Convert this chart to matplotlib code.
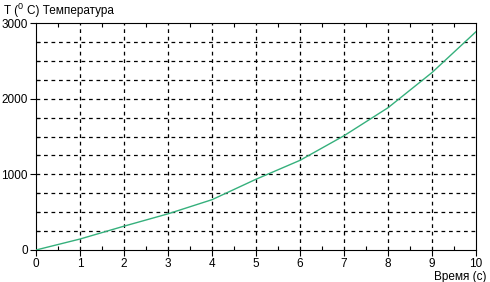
import matplotlib
matplotlib.use('Agg')
import matplotlib.pyplot as plt
from matplotlib.ticker import MultipleLocator

# time (s) and temperature (deg C)
time_s = [0, 1, 2, 3, 4, 5, 6, 7, 8, 9, 10]
temp_c = [0, 145, 315, 478, 665, 935, 1185, 1510, 1880, 2345, 2885]

x_ticks = [0, 1, 2, 3, 4, 5, 6, 7, 8, 9, 10]
y_ticks = [0, 1000, 2000, 3000]

plt.rcParams['font.family'] = ['Liberation Sans', 'DejaVu Sans']

fig = plt.figure(figsize=(4.9, 2.82), dpi=100)
ax = fig.add_axes([36 / 490, 32 / 282, 440 / 490, 227 / 282])

ax.plot(time_s, temp_c, color='#35b07c', lw=1.0, zorder=3)

ax.set_xlim(0, 10)
ax.set_ylim(0, 3000)
ax.set_xticks(x_ticks)
ax.set_yticks(y_ticks)
ax.xaxis.set_minor_locator(MultipleLocator(0.5))
ax.yaxis.set_minor_locator(MultipleLocator(250))

# dashed grid: verticals at whole seconds, horizontals every 250
for t in x_ticks[1:-1]:
    ax.axvline(t, color='black', lw=0.9, ls=(0, (3, 3)), zorder=1)
for v in range(250, 3000, 250):
    ax.axhline(v, color='black', lw=0.9, ls=(0, (3, 3)), zorder=1)

ax.tick_params(which='major', direction='out', length=4, width=0.8,
               labelsize=8.5, pad=2, top=False, right=False)
ax.tick_params(which='minor', direction='in', length=3, width=0.8,
               top=True, right=False)
for s in ax.spines.values():
    s.set_linewidth(0.8)

fig.text(4 / 490, 1 - 14 / 282, 'T (', fontsize=8.5)
fig.text(18 / 490, 1 - 9 / 282, '0', fontsize=6.5)
fig.text(27 / 490, 1 - 14 / 282, 'C) Температура', fontsize=8.5)
fig.text(486 / 490, 1 - 280 / 282, 'Время (с)', fontsize=8.5, ha='right')

fig.savefig('out.png', dpi=100)
